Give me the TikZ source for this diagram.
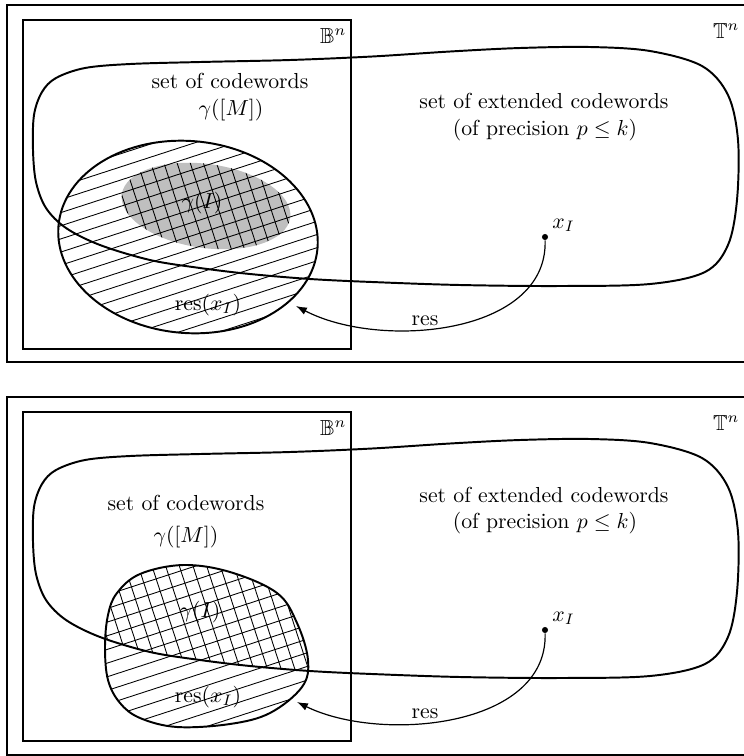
\documentclass[tikz,border=0pt]{standalone}
\usepackage{amssymb}
\usetikzlibrary{arrows.meta}
\newcommand{\BigCurve}[1]{\path[#1] plot[smooth cycle, tension=0.55] coordinates {
 (33,150) (34,115) (42,92) (56,78) (85,68) (130,64) (200,62) (290,60) (372,56.5)
 (450,51.5) (520,48) (590,47) (650,51) (702,66) (728,95) (738,140) (737,200) (728,245)
 (705,272) (650,284) (560,286) (460,285) (372,282) (310,279) (250,274)
 (200,268) (150,260) (100,245) (66,228) (46,208) (36,182)};}
\newcommand{\BlobPath}[1]{\path[#1] plot[smooth cycle, tension=0.6] coordinates {
 (105,647) (108,615) (117,593) (140,574) (183,565) (230,572) (277,593)
 (297,623) (308,660) (302,687) (270,713) (230,724) (177,727) (140,718)
 (120,703) (108,680)};}
\begin{document}
\begin{tikzpicture}[x=0.46pt,y=-0.46pt,
  frame/.style={line width=0.9pt},
  outline/.style={line width=0.9pt},
  hatchline/.style={line width=0.4pt},
  lbl/.style={inner sep=0pt, anchor=base},
  conn/.style={line width=0.55pt, -{Latex[length=5pt,width=3.6pt]}},
  dotnode/.style={circle, fill=black, inner sep=0pt, minimum size=2.8pt}]
\useasboundingbox (0,0) rectangle (744,756);

%================ TOP PANEL ================
\draw[frame] (7,5) rectangle (748,362);
\draw[frame] (23,20) rectangle (351,349);
\fill[gray!50, rotate around={-8:(206,206)}] (206,206) ellipse [x radius=85, y radius=42];

\node[lbl, anchor=base east] (Bn1) at (347,43) {$\mathbb{B}^n$};
\node[lbl, anchor=base east] (Tn1) at (740,38) {$\mathbb{T}^n$};
\node[lbl] (cw1) at (230,88) {set of codewords};
\node[lbl] (gm1) at (231,115) {$\gamma([M])$};
\node[lbl] (ext1) at (544,108) {set of extended codewords};
\node[lbl] (prec1) at (545,135) {(of precision $p \leq k$)};
\node[lbl] (gI1) at (202,208) {$\gamma(I)$};
\node[lbl] (res1) at (208,310) {$\mathrm{res}(x_I)$};
\node[lbl] (resl1) at (425,325) {res};
\node[lbl, anchor=base west] (xl1) at (552,228) {$x_I$};

% single hatching in the ellipse
\begin{scope}
  \clip[rotate around={-5:(188,237)}] (188,237) ellipse [x radius=130, y radius=96];
  \begin{scope}[rotate around={18:(188,237)}]
    \foreach \k in {-14,...,14}
      \draw[hatchline] (-30,{237+\k*12.5}) -- (420,{237+\k*12.5});
  \end{scope}
\end{scope}
% cross lines in the gray region
\begin{scope}
  \clip[rotate around={-8:(206,206)}] (206,206) ellipse [x radius=85, y radius=42];
  \begin{scope}[rotate around={18:(188,237)}]
    \foreach \k in {-14,...,14}
      \draw[hatchline] ({188+\k*12.5},60) -- ({188+\k*12.5},420);
  \end{scope}
\end{scope}

\BigCurve{draw, outline}
\draw[outline, rotate around={-5:(188,237)}] (188,237) ellipse [x radius=130, y radius=96];

\node[dotnode] (x1) at (545,237) {};
\coordinate (t1) at (296,306);
\draw[conn] (x1) .. controls (548,335) and (380,350) .. (t1);

%================ BOTTOM PANEL ================
\draw[frame] (7,397) rectangle (748,755);
\draw[frame] (23,412) rectangle (351,741);

\node[lbl, anchor=base east] (Bn2) at (347,435) {$\mathbb{B}^n$};
\node[lbl, anchor=base east] (Tn2) at (740,430) {$\mathbb{T}^n$};
\node[lbl] (cw2) at (186,510) {set of codewords};
\node[lbl] (gm2) at (186,542) {$\gamma([M])$};
\node[lbl] (ext2) at (544,502) {set of extended codewords};
\node[lbl] (prec2) at (545,528) {(of precision $p \leq k$)};
\node[lbl] (gI2) at (200,617) {$\gamma(I)$};
\node[lbl] (res2) at (208,702) {$\mathrm{res}(x_I)$};
\node[lbl] (resl2) at (425,718) {res};
\node[lbl, anchor=base west] (xl2) at (552,621) {$x_I$};

\begin{scope}
  \BlobPath{clip}
  \begin{scope}[rotate around={18:(205,645)}]
    \foreach \k in {-12,...,12}
      \draw[hatchline] (40,{645+\k*13}) -- (380,{645+\k*13});
  \end{scope}
\end{scope}
\begin{scope}
  \BlobPath{clip}
  \BigCurve{clip, shift={(0,392)}}
  \begin{scope}[rotate around={18:(205,645)}]
    \foreach \k in {-12,...,12}
      \draw[hatchline] ({205+\k*13},480) -- ({205+\k*13},810);
  \end{scope}
\end{scope}

\BigCurve{draw, outline, shift={(0,392)}}
\BlobPath{draw, outline}

\node[dotnode] (x2) at (545,630) {};
\coordinate (t2) at (297,702);
\draw[conn] (x2) .. controls (548,728) and (380,743) .. (t2);
\end{tikzpicture}
\end{document}
